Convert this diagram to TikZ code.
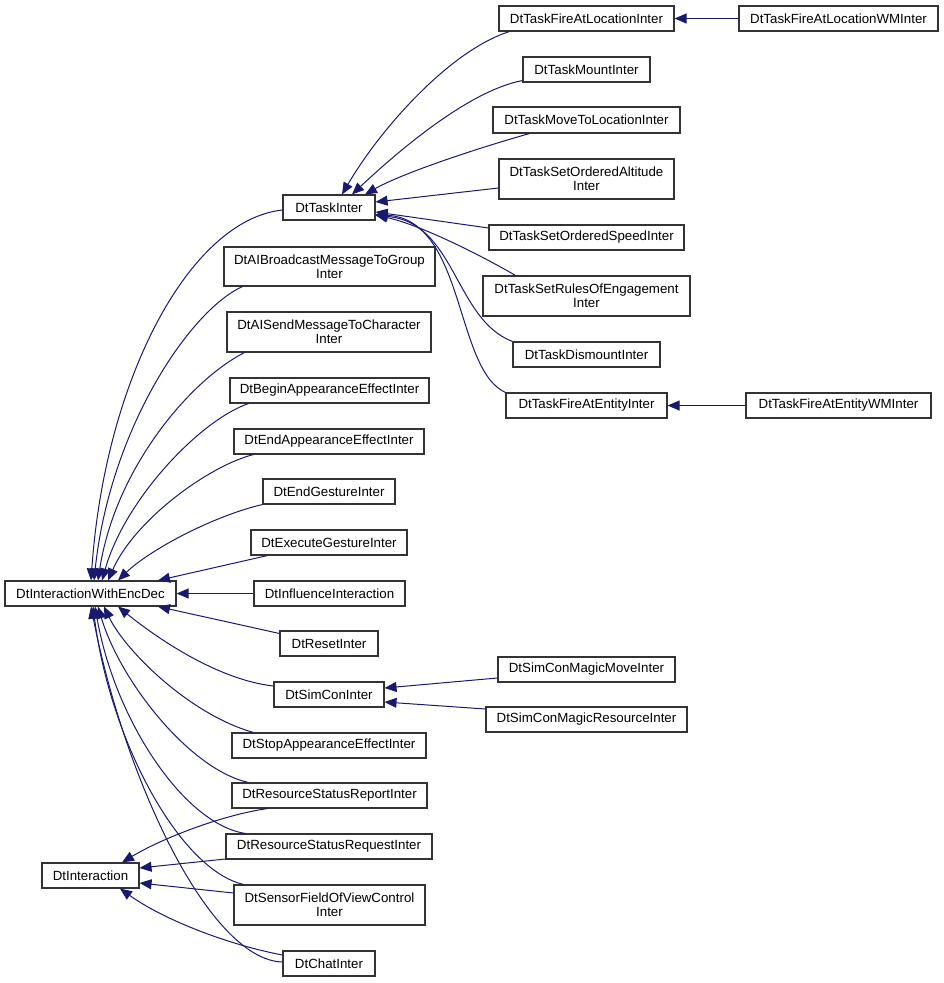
\documentclass[tikz,border=0pt]{standalone}
\usepackage{fontspec}
\setmainfont{Liberation Sans}
\usetikzlibrary{arrows.meta}
\definecolor{edgeblue}{HTML}{191970}
\newcommand{\clsfont}{\fontsize{13.3}{14}\selectfont}
\tikzset{
  cls/.style={draw=black!80, line width=1.1pt, fill=white, font=\clsfont,
    inner sep=1pt, minimum height=25pt, align=center},
  inh/.style={<-, draw=edgeblue, line width=1pt}
}
\begin{document}
\begin{tikzpicture}[x=1pt, y=1pt, >={Triangle[length=12pt,width=10pt]}]
        \useasboundingbox (0,0) rectangle (944,-983);

        % the two base classes on the left
        \node[cls, minimum width=171pt] (encdec) at (90.5,-593.5) {DtInteractionWithEncDec};
        \node[cls, minimum width=97pt] (inter) at (90.5,-875.5) {DtInteraction};

        % the middle column
        \node[cls, minimum width=92pt] (task) at (329,-207.5) {DtTaskInter};
        \node[cls, minimum width=211pt, minimum height=39pt] (aibroad) at (329.5,-266.5) {DtAIBroadcastMessageToGroup\\Inter};
        \node[cls, minimum width=204pt, minimum height=40pt] (aisend) at (329,-332) {DtAISendMessageToCharacter\\Inter};
        \node[cls, minimum width=199pt] (beginapp) at (329.5,-390.5) {DtBeginAppearanceEffectInter};
        \node[cls, minimum width=190pt] (endapp) at (329,-441.5) {DtEndAppearanceEffectInter};
        \node[cls, minimum width=132pt] (endgest) at (329,-491.5) {DtEndGestureInter};
        \node[cls, minimum width=156pt] (execgest) at (329,-542.5) {DtExecuteGestureInter};
        \node[cls, minimum width=151pt] (influence) at (329.5,-593.5) {DtInfluenceInteraction};
        \node[cls, minimum width=98pt] (reset) at (329,-643.5) {DtResetInter};
        \node[cls, minimum width=110pt] (simcon) at (329,-694.5) {DtSimConInter};
        \node[cls, minimum width=194pt] (stopapp) at (329,-745.5) {DtStopAppearanceEffectInter};
        \node[cls, minimum width=195pt] (report) at (329.5,-795.5) {DtResourceStatusReportInter};
        \node[cls, minimum width=206pt] (request) at (329,-846.5) {DtResourceStatusRequestInter};
        \node[cls, minimum width=191pt, minimum height=40pt] (sensor) at (329.5,-905) {DtSensorFieldOfViewControl\\Inter};
        \node[cls, minimum width=92pt] (chat) at (329,-963.5) {DtChatInter};

        % the task column
        \node[cls, minimum width=175pt] (fireloc) at (586.5,-18.5) {DtTaskFireAtLocationInter};
        \node[cls, minimum width=127pt] (mount) at (586.5,-69.5) {DtTaskMountInter};
        \node[cls, minimum width=187pt, minimum height=26pt] (moveloc) at (586.5,-120) {DtTaskMoveToLocationInter};
        \node[cls, minimum width=175pt, minimum height=40pt] (altitude) at (586.5,-179) {DtTaskSetOrderedAltitude\\Inter};
        \node[cls, minimum width=195pt] (speed) at (586.5,-237.5) {DtTaskSetOrderedSpeedInter};
        \node[cls, minimum width=207pt, minimum height=40pt] (rules) at (586.5,-296) {DtTaskSetRulesOfEngagement\\Inter};
        \node[cls, minimum width=147pt] (dismount) at (586.5,-354.5) {DtTaskDismountInter};
        \node[cls, minimum width=161pt] (fireent) at (586.5,-405.5) {DtTaskFireAtEntityInter};
        \node[cls, minimum width=177pt] (magicmove) at (586.5,-669.5) {DtSimConMagicMoveInter};
        \node[cls, minimum width=201pt] (magicres) at (586.5,-719.5) {DtSimConMagicResourceInter};

        % the WM classes on the right
        \node[cls, minimum width=199pt] (firelocwm) at (838.5,-18.5) {DtTaskFireAtLocationWMInter};
        \node[cls, minimum width=185pt] (fireentwm) at (838.5,-405.5) {DtTaskFireAtEntityWMInter};

        % arrows into the top of DtInteractionWithEncDec
        \draw[inh] ([xshift=0.5]encdec.north) .. controls +(14,201) and +(-93,-10) .. ([yshift=-2.5]task.west);
        \draw[inh] ([xshift=3.5]encdec.north) .. controls +(16,151) and +(-53,-24) .. ([xshift=19]aibroad.south west);
        \draw[inh] ([xshift=7.5]encdec.north) .. controls +(17,111) and +(-55,-28) .. ([xshift=18]aisend.south west);
        \draw[inh] ([xshift=11.5]encdec.north) .. controls +(23,81) and +(-49,-17) .. ([xshift=19]beginapp.south west);
        \draw[inh] ([xshift=17.5]encdec.north) .. controls +(27,61) and +(-44,-11) .. ([xshift=20]endapp.south west);
        \draw[inh] ([xshift=27.5]encdec.north) .. controls +(32,31) and +(-48,-11) .. (endgest.south west);
        \draw[inh] ([xshift=67.5]encdec.north) -- ([xshift=17]execgest.south west);
        \draw[inh] (encdec.east) -- (influence.west);

        % arrows into the bottom of DtInteractionWithEncDec
        \draw[inh] ([xshift=67.5]encdec.south) -- ([yshift=10]reset.west);
        \draw[inh] ([xshift=27.5]encdec.south) .. controls +(42,-34) and +(-54,6) .. ([yshift=8.5]simcon.west);
        \draw[inh] ([xshift=13.5]encdec.south) .. controls +(21,-44) and +(-64,18) .. ([xshift=22]stopapp.north west);
        \draw[inh] ([xshift=7.5]encdec.south) .. controls +(22,-74) and +(-59,13) .. ([xshift=17]report.north west);
        \draw[inh] ([xshift=4.5]encdec.south) .. controls +(20,-114) and +(-61,9) .. ([xshift=20]request.north west);
        \draw[inh] ([xshift=2.5]encdec.south) .. controls +(17,-134) and +(-64,15) .. ([xshift=10]sensor.north west);
        \draw[inh] ([xshift=0.5]encdec.south) .. controls +(34,-174) and +(-73,2) .. ([yshift=1.5]chat.west);

        % arrows into DtInteraction
        \draw[inh] ([xshift=31.5]inter.north) .. controls +(38,23) and +(-48,-7) .. ([xshift=36]report.south west);
        \draw[inh] ([yshift=7.5]inter.east) -- ([yshift=-12.5]request.west);
        \draw[inh] ([yshift=-7.5]inter.east) -- ([yshift=12]sensor.west);
        \draw[inh] ([xshift=29.5]inter.south) .. controls +(45,-32) and +(-53,10) .. ([yshift=8.5]chat.west);

        % arrows into DtTaskInter
        \draw[inh] ([xshift=13]task.north) .. controls +(38,65) and +(-60,-19) .. ([xshift=11]fireloc.south west);
        \draw[inh] ([xshift=23]task.north) .. controls +(48,45) and +(-53,-10) .. ([yshift=2]mount.south west);
        \draw[inh] ([xshift=36]task.north) .. controls +(35,20) and +(-60,-17) .. ([xshift=37]moveloc.south west);
        \draw[inh] ([yshift=5.5]task.east) -- ([yshift=-9]altitude.west);
        \draw[inh] ([yshift=-4.5]task.east) -- ([yshift=9.5]speed.west);
        \draw[inh] ([yshift=-7.5]task.east) .. controls +(45,-10) and +(-36,21) .. ([xshift=33]rules.north west);
        \draw[inh] ([yshift=-8]task.east) .. controls +(80,-6.5) and +(-58,22) .. (dismount.north west);
        \draw[inh] ([yshift=-7]task.east) .. controls +(90,-5.5) and +(-51,23) .. (fireent.north west);

        % arrows into DtSimConInter
        \draw[inh] ([yshift=6.5]simcon.east) -- ([yshift=-8.5]magicmove.west);
        \draw[inh] ([yshift=-7.5]simcon.east) -- ([yshift=10.5]magicres.west);

        % the WM classes
        \draw[inh] (fireloc.east) -- (firelocwm.west);
        \draw[inh] (fireent.east) -- (fireentwm.west);
    \end{tikzpicture}
\end{document}
